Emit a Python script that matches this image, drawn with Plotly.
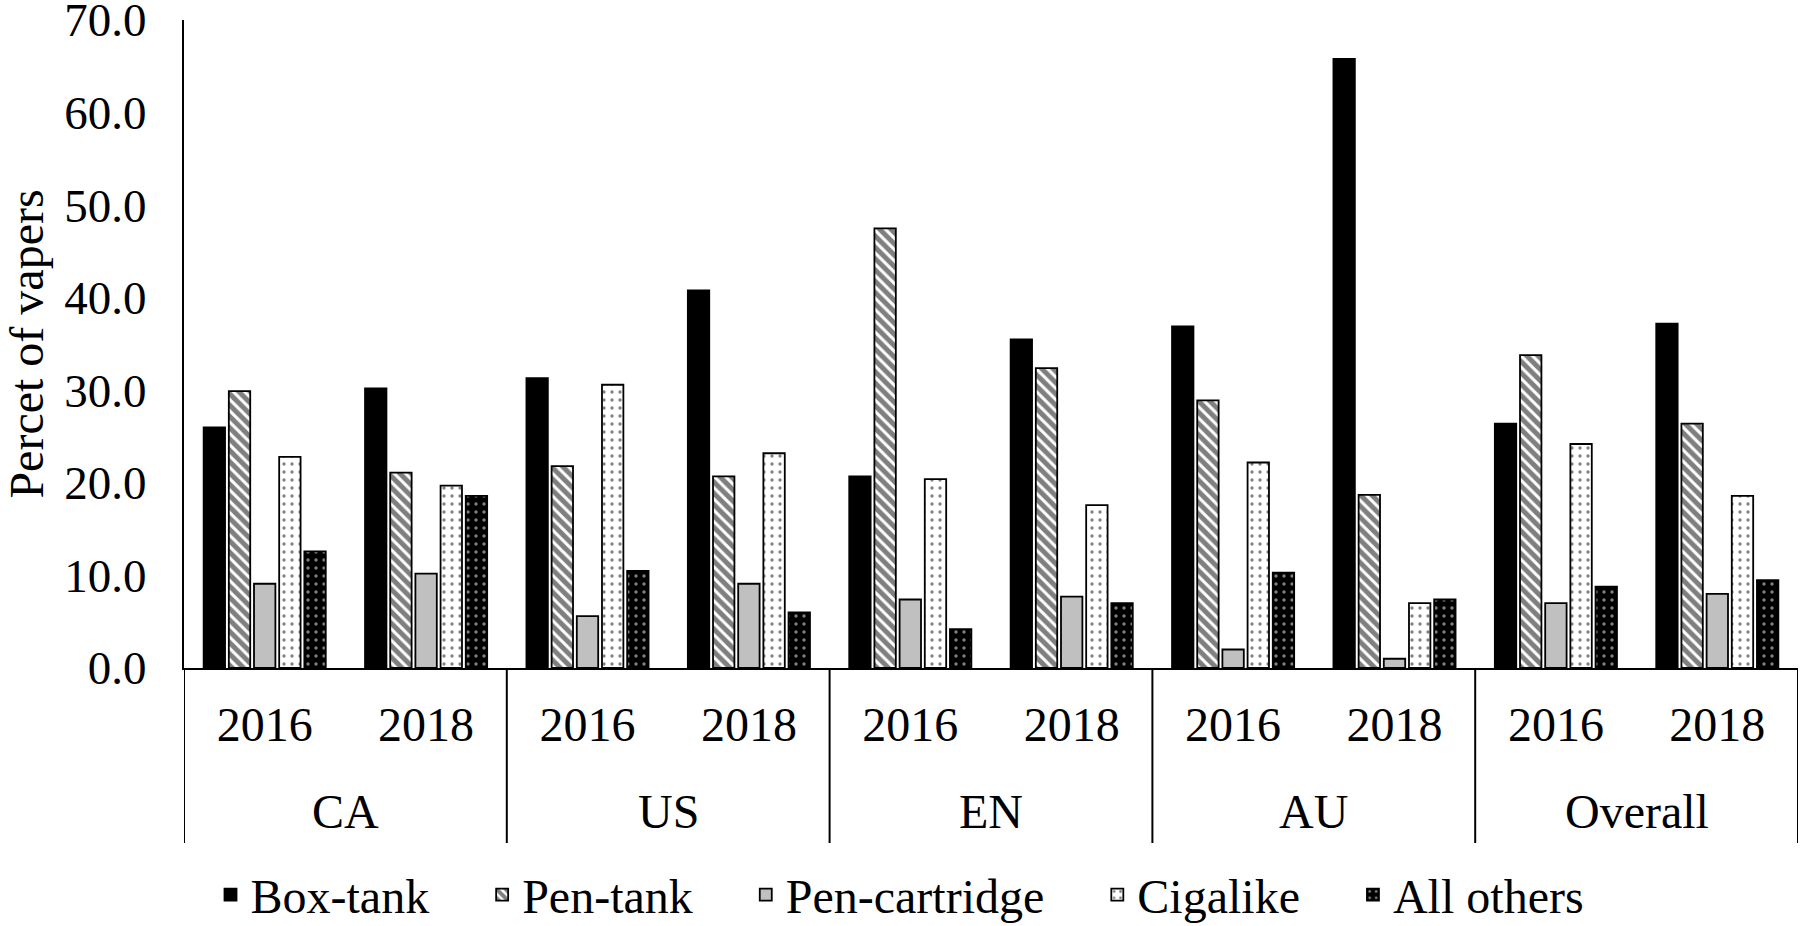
import plotly.graph_objects as go

countries = ["CA", "US", "EN", "AU", "Overall"]
years = ["2016", "2018"]
series_names = ["Box-tank", "Pen-tank", "Pen-cartridge", "Cigalike", "All others"]

box_tank = [26.0, 30.2, 31.3, 40.8, 20.7, 35.5, 36.9, 65.8, 26.4, 37.2]
pen_tank = [29.9, 21.1, 21.8, 20.7, 47.5, 32.4, 28.9, 18.7, 33.8, 26.4]
pen_cartridge = [9.1, 10.2, 5.6, 9.1, 7.4, 7.7, 2.0, 1.0, 7.0, 8.0]
cigalike = [22.8, 19.7, 30.6, 23.2, 20.4, 17.6, 22.2, 7.0, 24.2, 18.6]
all_others = [12.6, 18.6, 10.5, 6.0, 4.2, 7.0, 10.3, 7.4, 8.8, 9.5]

y_ticks = [0, 10, 20, 30, 40, 50, 60, 70]

n_years = len(years)
positions = list(range(len(countries) * n_years))
year_text = [y for _ in countries for y in years]

FONT = "Liberation Serif, Times New Roman, serif"

styles = [
    dict(color="black", pattern=dict(shape="")),
    dict(color="white", pattern=dict(shape="\\", fgcolor="black", bgcolor="white", size=8, solidity=0.62, fillmode="overlay")),
    dict(color="#c0c0c0", pattern=dict(shape="")),
    dict(color="white", pattern=dict(shape=".", fgcolor="black", bgcolor="white", size=8, solidity=0.13, fillmode="overlay")),
    dict(color="black", pattern=dict(shape=".", fgcolor="white", bgcolor="black", size=8, solidity=0.14, fillmode="overlay")),
]

PAD = "\u00a0" * 4

fig = go.Figure()
all_series = [box_tank, pen_tank, pen_cartridge, cigalike, all_others]
for i, (name, vals, st) in enumerate(zip(series_names, all_series, styles)):
    fig.add_trace(go.Bar(
        name=name + (PAD if i < len(series_names) - 1 else ""),
        x=positions,
        y=vals,
        marker=dict(color=st["color"], pattern=st["pattern"], line=dict(color="black", width=1.8)),
    ))

H, T, B = 926, 20, 258
plot_h = H - T - B
zero_px = H - B

for k, c in enumerate(countries):
    fig.add_annotation(
        x=k * n_years + (n_years - 1) / 2, xref="x",
        y=(zero_px - 811) / plot_h, yref="paper", yanchor="middle",
        text=c, showarrow=False, font=dict(size=48, family=FONT, color="black"),
    )
for k in range(len(countries) + 1):
    xb = k * n_years - 0.5
    fig.add_shape(type="line", xref="x", yref="paper", x0=xb, x1=xb,
                  y0=0, y1=(zero_px - 843) / plot_h, line=dict(color="black", width=2))

fig.update_layout(
    width=1800, height=H,
    margin=dict(l=184, r=2, t=T, b=B, autoexpand=False),
    paper_bgcolor="white", plot_bgcolor="white",
    barmode="group", bargap=0.22, bargroupgap=0.15,
    font=dict(family=FONT, size=47, color="black"),
    showlegend=True,
    legend=dict(orientation="h", xref="container", yref="paper", x=0.5, xanchor="center",
                y=(zero_px - 895) / plot_h, yanchor="middle",
                font=dict(size=48, family=FONT), itemwidth=30),
)
fig.update_yaxes(
    range=[0, 70], tickvals=y_ticks, tickformat=".1f", automargin=False,
    showgrid=False, zeroline=False, showline=True, linecolor="black", linewidth=2,
    ticks="", ticklabelstandoff=26, ticklabeloverflow="allow",
    title=dict(text="Percet of vapers", font=dict(size=48, family=FONT), standoff=49),
    tickfont=dict(size=47, family=FONT),
)
fig.update_xaxes(
    range=[-0.5, positions[-1] + 0.5], tickvals=positions, ticktext=year_text, automargin=False,
    showline=True, linecolor="black", linewidth=2, zeroline=False,
    showgrid=False, ticks="", ticklabelstandoff=13, ticklabeloverflow="allow",
    tickfont=dict(size=48, family=FONT),
)

fig.write_html("out.html", config={"displayModeBar": False},
               post_script="document.body.style.margin='0';document.body.style.overflow='hidden';")
